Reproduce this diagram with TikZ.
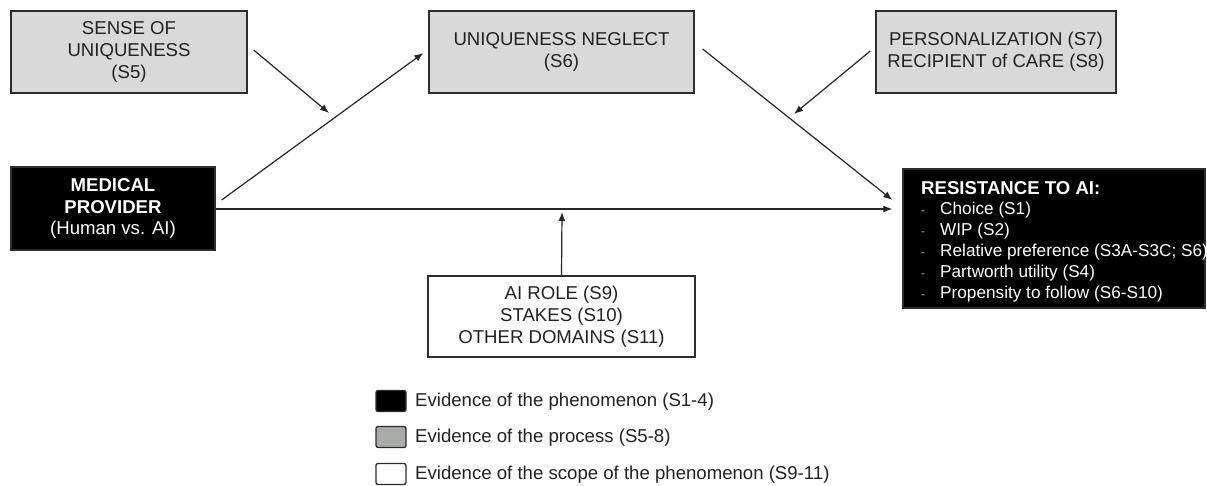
\documentclass[tikz,border=0pt]{standalone}
\usepackage{fontspec}
\setmainfont{Liberation Sans}
\usetikzlibrary{arrows.meta}
\definecolor{boxgray}{RGB}{217,217,217}
\definecolor{leggray}{RGB}{168,171,168}
\definecolor{txt}{RGB}{34,34,34}
\definecolor{edge}{RGB}{45,45,45}
\tikzset{
  base/.style={draw=edge, line width=1.3pt, inner sep=0pt, align=center,
    font=\fontsize{18.6}{21.8}\selectfont, execute at begin node={\rule{0pt}{18pt}}},
  graybox/.style={base, fill=boxgray, text=txt},
  blackbox/.style={base, fill=black, text=white},
  whitebox/.style={base, fill=white, text=txt},
  arr/.style={draw=black!85, line width=1.2pt, -{Latex[length=9pt,width=7pt]}},
  legsq/.style={draw=edge, line width=1.3pt, rounded corners=2pt, minimum width=30pt, minimum height=21pt, inner sep=0pt},
  legtxt/.style={anchor=west, inner sep=0pt, text=txt, font=\fontsize{18.6}{21.5}\selectfont}
}
\newcommand{\bul}{\makebox[19pt][l]{\textcolor{white!70!black}{\fontsize{12}{12}\selectfont -}}}
\newcommand{\lst}{\fontsize{17.2}{20.8}\selectfont}
\begin{document}
\begin{tikzpicture}[x=1pt,y=-1pt]
\useasboundingbox[fill=white] (0,0) rectangle (1207,486);
% nodes
\node[graybox, minimum width=236pt, minimum height=82pt] (sense) at (129,52) {SENSE OF\\UNIQUENESS\\(S5)};
\node[graybox, minimum width=265pt, minimum height=82pt] (neg) at (561.5,52) {UNIQUENESS NEGLECT\\(S6)};
\node[graybox, minimum width=240pt, minimum height=82pt] (pers) at (996,52) {PERSONALIZATION (S7)\\RECIPIENT of CARE (S8)};
\node[blackbox, minimum width=204pt, minimum height=83pt] (med) at (113,208.5) {\textbf{MEDICAL}\\\textbf{PROVIDER}\\(Human vs. AI)};
\node[blackbox, minimum width=302pt, minimum height=139pt, execute at begin node={}] (res) at (1054,238.5) {};
\node[anchor=north west, inner sep=0pt, align=left, text=white, font=\fontsize{18.6}{20.8}\selectfont] (restxt) at (921,181)
  {\textbf{RESISTANCE TO AI:}\\
   \lst\bul Choice (S1)\\
   \lst\bul WIP (S2)\\
   \lst\bul Relative preference (S3A-S3C; S6)\\
   \lst\bul Partworth utility (S4)\\
   \lst\bul Propensity to follow (S6-S10)};
\node[whitebox, minimum width=267pt, minimum height=81pt] (ai) at (561.5,316.5) {AI ROLE (S9)\\STAKES (S10)\\OTHER DOMAINS (S11)};
% helper coordinates
\coordinate (m1) at (329,113);
\coordinate (m2) at (794,114);
\coordinate (hl) at (562,212);
% connectors
\draw[arr] ([xshift=6pt,yshift=8.5pt]med.east) -- ([xshift=-5pt,yshift=-1pt]neg.west);
\draw[arr] ([xshift=8pt,yshift=3pt]neg.east) -- ([xshift=-10pt,yshift=38.5pt]res.west);
\draw[arr] (med.east |- 0,209) -- ([xshift=-10pt,yshift=29.5pt]res.west);
\draw[arr] ([xshift=6pt,yshift=2pt]sense.east) -- (m1);
\draw[arr] ([xshift=-5pt,yshift=1pt]pers.west) -- (m2);
\draw[arr] (ai.north) -- (hl);
% legend
\node[legsq, fill=black] (l1) at (391,401) {};
\node[legsq, fill=leggray] (l2) at (391,437) {};
\node[legsq, fill=white] (l3) at (391,474) {};
\node[legtxt] (t1) at (415,402) {Evidence of the phenomenon (S1-4)};
\node[legtxt] (t2) at (415,438) {Evidence of the process (S5-8)};
\node[legtxt] (t3) at (415,475) {Evidence of the scope of the phenomenon (S9-11)};
\end{tikzpicture}
\end{document}
